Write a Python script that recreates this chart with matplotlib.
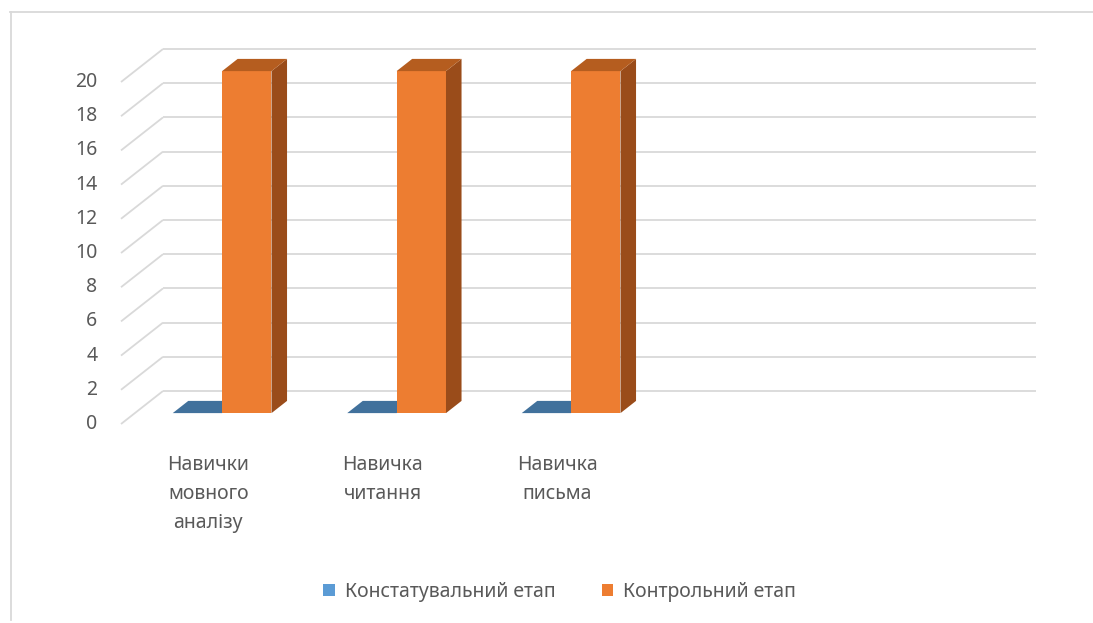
import matplotlib.pyplot as plt
from matplotlib.patches import Polygon, Patch
from matplotlib.lines import Line2D

plt.rcParams['font.family'] = ['Noto Sans', 'DejaVu Sans']

# chart data
categories = ["Навички\nмовного\nаналізу", "Навичка\nчитання", "Навичка\nписьма"]
series_names = ["Констатувальний етап", "Контрольний етап"]
stage_constat = [0, 0, 0]
stage_control = [20, 20, 20]
y_ticks = list(range(0, 21, 2))

N_SLOTS = 5            # category slots on the floor (last two are empty)
DX, DY = 0.2407, 1.93  # oblique offset of the back wall (category / value units)
D0, D1 = 0.33, 0.70    # front and back depth of the columns (0 = front, 1 = back)
BAR_W = 0.283

# (front, top, side) shades for each series
shades = [("#5B9BD5", "#41719C", "#2E5E8A"),
          ("#ED7D31", "#B55D1F", "#9A4C1A")]
legend_colors = ["#5B9BD5", "#ED7D31"]
GRID = "#D9D9D9"
TEXT = "#595959"


def proj(x, v, d):
    return (x + d * DX, v + d * DY)


def column(ax, x0, x1, h, cols):
    front, top, side = cols
    if h > 0:
        ax.add_patch(Polygon([proj(x0, 0, D0), proj(x1, 0, D0), proj(x1, h, D0), proj(x0, h, D0)],
                             closed=True, fc=front, ec="none", zorder=3))
        ax.add_patch(Polygon([proj(x1, 0, D0), proj(x1, 0, D1), proj(x1, h, D1), proj(x1, h, D0)],
                             closed=True, fc=side, ec="none", zorder=3))
    ax.add_patch(Polygon([proj(x0, h, D0), proj(x1, h, D0), proj(x1, h, D1), proj(x0, h, D1)],
                         closed=True, fc=top, ec="none", zorder=3))


fig = plt.figure(figsize=(10.93, 6.23), dpi=100)
ax = fig.add_axes([0, 0, 1, 1])
ax.set_xlim(-121 / 174.5, (1093 - 121) / 174.5)
ax.set_ylim(-(623 - 424) / 17.1, 424 / 17.1)
ax.axis("off")

# side wall diagonals and back wall gridlines
for v in y_ticks:
    bx, by = proj(0, v, 1)
    ax.plot([0, bx], [v, by], color=GRID, lw=1.3, zorder=1, solid_capstyle="butt")
    ax.plot([bx, N_SLOTS + bx], [by, by], color=GRID, lw=1.3, zorder=1, solid_capstyle="butt")
    ax.text(-0.135, v, str(v), ha="right", va="center", fontsize=14, color=TEXT)

for i, lab in enumerate(categories):
    c = i + 0.5
    column(ax, c - BAR_W, c, stage_constat[i], shades[0])
    column(ax, c, c + BAR_W, stage_control[i], shades[1])
    ax.text(c, -1.8, lab, ha="center", va="top", fontsize=14, color=TEXT, linespacing=1.62)

handles = [Patch(fc=legend_colors[k], ec="none", label=series_names[k]) for k in range(2)]
fig.legend(handles=handles, loc="center", bbox_to_anchor=(0.512, 0.05), ncol=2, frameon=False,
           fontsize=14, labelcolor=TEXT, handlelength=0.6, handleheight=0.6,
           handletextpad=0.5, columnspacing=2.4)

# chart area border (partly cropped)
fig.add_artist(Line2D([10.5 / 1093, 10.5 / 1093], [1 - 12 / 623, 1 - 620 / 623], color=GRID, lw=1.3))
fig.add_artist(Line2D([10 / 1093, 1], [1 - 12 / 623, 1 - 12 / 623], color=GRID, lw=1.3))

fig.savefig("out.png", dpi=100, facecolor="white")
